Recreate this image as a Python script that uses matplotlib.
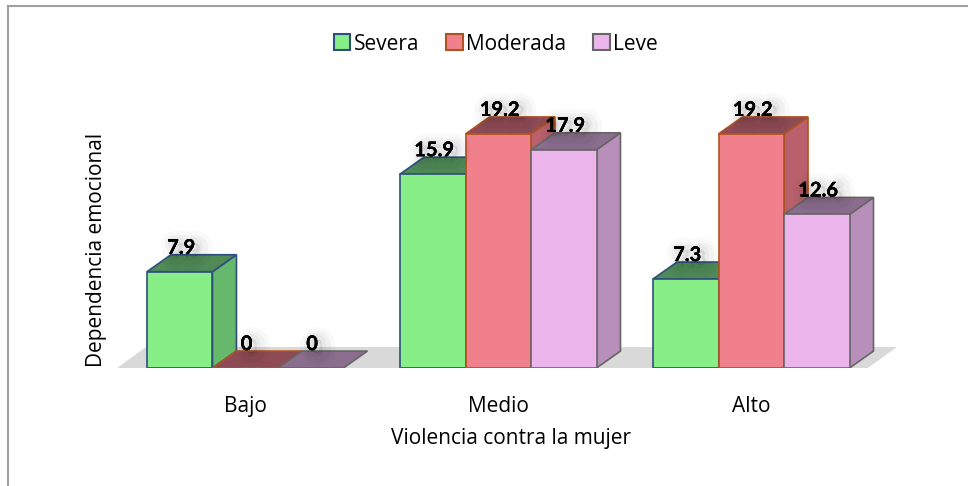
import matplotlib
matplotlib.use('Agg')
import matplotlib.pyplot as plt
import matplotlib.patheffects as pe
from matplotlib.patches import Polygon, Patch
from matplotlib.lines import Line2D

# Datos del gráfico
categorias = ['Bajo', 'Medio', 'Alto']
series = ['Severa', 'Moderada', 'Leve']
severa = [7.9, 15.9, 7.3]
moderada = [0, 19.2, 19.2]
leve = [0, 17.9, 12.6]

# Colores (frente, techo, lado, borde)
colores = {
    'Severa': ('#88ee88', '#4f8a57', '#66b86c', '#2f4f7f'),
    'Moderada': ('#f0808c', '#8e4b55', '#b8616c', '#b0521e'),
    'Leve': ('#ebb5eb', '#8b6e8e', '#b88fbb', '#666666'),
}

plt.rcParams['font.family'] = ['Open Sans', 'DejaVu Sans']

fig = plt.figure(figsize=(9.68, 4.86), dpi=100)
ax = fig.add_axes([117 / 968, 118 / 486, 788 / 968, 258 / 486])
ax.set_xlim(-0.458, 11.573)
ax.set_ylim(0, 21.16)
for s in ax.spines.values():
    s.set_visible(False)

paso = 3.863      # separación entre grupos (en anchos de barra)
dx, dy = 0.366, 1.39   # profundidad de las barras
fdx, fdy = 0.443, 1.72  # profundidad del suelo

# Suelo
x_ini = -0.458
x_fin = (len(categorias) - 1) * paso + 3 + 0.28
ax.add_patch(Polygon([(x_ini, 0), (x_fin, 0), (x_fin + fdx, fdy), (x_ini + fdx, fdy)],
                     closed=True, facecolor='#d9d9d9', edgecolor='none', zorder=1))

# sombra difusa de las etiquetas
sombra = [pe.withStroke(linewidth=18, foreground='black', alpha=0.025, offset=(4, -3)),
          pe.withStroke(linewidth=12, foreground='black', alpha=0.03, offset=(4, -3)),
          pe.withStroke(linewidth=6, foreground='black', alpha=0.035, offset=(3, -2)),
          pe.Normal()]

valores = [severa, moderada, leve]
z = 2
for i, cat in enumerate(categorias):
    for j, nombre in enumerate(series):
        v = valores[j][i]
        frente, techo, lado, borde = colores[nombre]
        x0 = i * paso + j
        x1 = x0 + 1
        if v > 0:
            lado_pts = [(x1, 0), (x1 + dx, dy), (x1 + dx, v + dy), (x1, v)]
            ax.add_patch(Polygon(lado_pts, facecolor=lado, edgecolor=borde, lw=1.2, zorder=z))
        techo_pts = [(x0, v), (x1, v), (x1 + dx, v + dy), (x0 + dx, v + dy)]
        ax.add_patch(Polygon(techo_pts, facecolor=techo, edgecolor=borde, lw=1.2, zorder=z + 1))
        if v > 0:
            frente_pts = [(x0, 0), (x1, 0), (x1, v), (x0, v)]
            ax.add_patch(Polygon(frente_pts, facecolor=frente, edgecolor=borde, lw=1.2, zorder=z + 2))
        z += 3
        etiqueta = f'{v:g}' if v else '0'
        ax.text(x0 + 0.52, v + dy + 0.08, etiqueta, ha='center', va='baseline',
                fontsize=14.5, fontweight='bold', color='black', zorder=100,
                family=['Lato', 'DejaVu Sans'], path_effects=sombra)

ax.set_xticks([i * paso + 1.5 for i in range(len(categorias))])
ax.set_xticklabels(categorias, fontsize=15)
ax.tick_params(axis='x', length=0, pad=20)
ax.set_yticks([])
ax.set_xlabel('Violencia contra la mujer', fontsize=15, labelpad=8)
ax.set_ylabel('Dependencia emocional', fontsize=15)
ax.yaxis.set_label_coords(-0.0127, 0.457)

# Leyenda
manejadores = [Patch(facecolor=colores[n][0], edgecolor=colores[n][3], lw=1.5) for n in series]
fig.legend(manejadores, series, loc='center', bbox_to_anchor=(0.512, 1 - 44 / 486),
           ncol=3, frameon=False, fontsize=15, handlelength=0.8, handleheight=0.8,
           handletextpad=0.15, columnspacing=1.3)

# Borde exterior del gráfico
fig.add_artist(Line2D([8 / 968, 8 / 968], [0, 1 - 6 / 486], color='#a0a0a0', lw=1.5))
fig.add_artist(Line2D([8 / 968, 1], [1 - 6 / 486, 1 - 6 / 486], color='#a0a0a0', lw=1.5))

fig.savefig('out.png', dpi=100)
